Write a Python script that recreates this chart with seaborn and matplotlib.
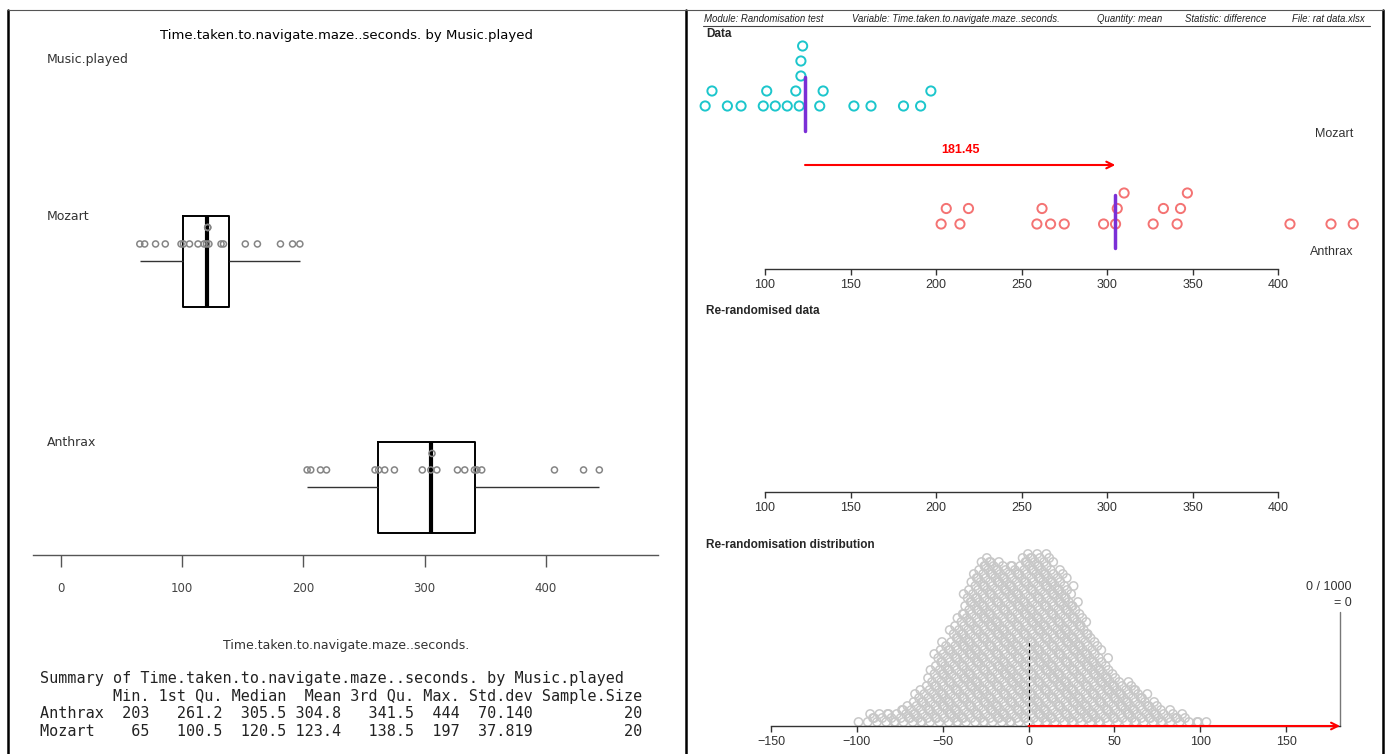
import numpy as np
import pandas as pd
import matplotlib
matplotlib.use("Agg")
import matplotlib.pyplot as plt
from matplotlib.lines import Line2D
import seaborn as sns

# data
groups = ["Mozart", "Anthrax"]
mozart_times = [65, 69, 78, 86, 99, 101, 106, 113, 118, 120, 121, 121, 122, 132, 134, 152, 162, 181, 191, 197]
anthrax_times = [203, 206, 214, 219, 259, 262, 267, 275, 298, 305, 306, 310, 327, 333, 341, 343, 347, 407, 431, 444]

stat_names = ["Min.", "1st Qu.", "Median", "Mean", "3rd Qu.", "Max.", "Std.dev", "Sample.Size"]
anthrax_stats = ["203", "261.2", "305.5", "304.8", "341.5", "444", "70.140", "20"]
mozart_stats = ["65", "100.5", "120.5", "123.4", "138.5", "197", "37.819", "20"]

# re-randomisation distribution: bin centres and number of stacked dots per bin
dist_centres = [-96, -92, -88, -84, -80, -76, -72, -68, -64, -60,
                -56, -52, -48, -44, -40, -36, -32, -28, -24, -20,
                -16, -12, -8, -4, 0, 4, 8, 12, 16, 20,
                24, 28, 32, 36, 40, 44, 48, 52, 56, 60,
                64, 68, 72, 76, 80, 84, 88, 92, 96, 100, 104]
dist_counts = [1, 3, 3, 3, 3, 4, 4, 6, 8, 10,
               14, 19, 21, 24, 28, 33, 38, 41, 42, 41,
               41, 40, 40, 42, 43, 43, 43, 42, 39, 38,
               35, 31, 27, 23, 20, 17, 14, 12, 11, 10,
               9, 8, 6, 5, 4, 3, 3, 2, 1, 1, 1]
n_resamples = 1000

sns.set_style("white")
plt.rcParams["font.family"] = ["DejaVu Sans"]

W, H = 1389, 754
fig = plt.figure(figsize=(W / 100, H / 100), dpi=100)


def px_axes(x0, y0, x1, y1):
    ax = fig.add_axes([x0 / W, 1 - y1 / H, (x1 - x0) / W, (y1 - y0) / H])
    ax.patch.set_alpha(0)
    return ax


def ftext(x, y, s, **kw):
    return fig.text(x / W, 1 - y / H, s, **kw)


def stack_levels(values, gap):
    # greedy dot stacking: lowest level with no close neighbour
    placed = []
    levels = []
    for v in values:
        lev = 0
        while any(abs(v - pv) < gap and pl == lev for pv, pl in placed):
            lev += 1
        placed.append((v, lev))
        levels.append(lev)
    return np.array(levels)


# ---------------- left panel: boxplots ----------------
df = pd.DataFrame({
    "Music.played": ["Mozart"] * len(mozart_times) + ["Anthrax"] * len(anthrax_times),
    "time": mozart_times + anthrax_times,
})

axL = px_axes(33, 40, 658, 555)
sns.boxplot(data=df, x="time", y="Music.played", order=groups, orient="h",
            width=0.40, whis=(0, 100), showfliers=False, fill=False,
            color="black", linewidth=1.4, showcaps=False,
            medianprops=dict(linewidth=3, color="black"),
            whiskerprops=dict(linewidth=1, color="#333333"), ax=axL)

for i, g in enumerate(groups):
    vals = np.sort(df.loc[df["Music.played"] == g, "time"].values)
    lev = np.minimum(stack_levels(vals, 1.5), 1)
    axL.scatter(vals, i - 0.0774 - lev * 0.073, s=19, facecolors="none",
                edgecolors="#858585", linewidths=1.1, zorder=3)

axL.set_xlim(-23.1, 492.4)
axL.set_ylim(1.299, -0.98)
axL.set_xlabel("")
axL.set_ylabel("")
axL.set_yticks([])
axL.set_xticks([0, 100, 200, 300, 400])
for s in ["top", "left", "right"]:
    axL.spines[s].set_visible(False)
axL.spines["bottom"].set_color("#555555")
axL.spines["bottom"].set_linewidth(1)
axL.tick_params(axis="x", bottom=True, length=8.6, width=1, color="#555555",
                pad=11, labelsize=8.5, labelcolor="#444444")

ftext(346, 36, "Time.taken.to.navigate.maze..seconds. by Music.played",
      ha="center", va="center", size=9.5, color="black")
ftext(47, 59, "Music.played", ha="left", va="center", size=9, color="#333333")
ftext(47, 217, "Mozart", ha="left", va="center", size=9, color="#333333")
ftext(47, 443, "Anthrax", ha="left", va="center", size=9, color="#333333")
ftext(346, 645, "Time.taken.to.navigate.maze..seconds.", ha="center",
      va="center", size=9, color="#333333")

# summary table, R print style
widths = [max(len(n), len(a), len(m)) for n, a, m in zip(stat_names, anthrax_stats, mozart_stats)]
rows = ["Summary of Time.taken.to.navigate.maze..seconds. by Music.played",
        " " * 7 + "".join(" " + n.rjust(w) for n, w in zip(stat_names, widths)),
        "Anthrax" + "".join(" " + v.rjust(w) for v, w in zip(anthrax_stats, widths)),
        "Mozart".ljust(7) + "".join(" " + v.rjust(w) for v, w in zip(mozart_stats, widths))]
for k, line in enumerate(rows):
    ftext(40, 679 + k * 17.4, line, ha="left", va="center", size=10.9,
          family="DejaVu Sans Mono", color="#222222")

# ---------------- right panel ----------------
rfont = "Liberation Sans"

# header strip
axH = px_axes(700, 10, 1370, 27)
axH.set_axis_off()
header = [("Module: Randomisation test", 704), ("Variable: Time.taken.to.navigate.maze..seconds.", 852),
          ("Quantity: mean", 1097), ("Statistic: difference", 1185), ("File: rat data.xlsx", 1292)]
for txt, xpx in header:
    axH.text((xpx - 700) / 670, 0.5, txt, transform=axH.transAxes, ha="left",
             va="center", size=6.9, style="italic", family=rfont,
             color="#222222", clip_on=True)
fig.add_artist(Line2D([703 / W, 1370 / W], [1 - 26 / H, 1 - 26 / H], color="#444444", lw=0.8))

ftext(706, 34, "Data", ha="left", va="center", size=8.5, weight="bold", family=rfont)
ftext(706, 311, "Re-randomised data", ha="left", va="center", size=8.5, weight="bold", family=rfont)
ftext(706, 545, "Re-randomisation distribution", ha="left", va="center", size=8.5,
      weight="bold", family=rfont)


def style_data_axis(ax, lo, hi, ticks):
    ax.set_xticks(ticks)
    ax.set_yticks([])
    for s in ["top", "left", "right"]:
        ax.spines[s].set_visible(False)
    ax.spines["bottom"].set_bounds(lo, hi)
    ax.spines["bottom"].set_color("#333333")
    ax.spines["bottom"].set_linewidth(1)
    ax.tick_params(axis="x", bottom=True, length=4.5, width=1, color="#333333",
                   pad=2.5, labelsize=9, labelcolor="#333333")
    for lab in ax.get_xticklabels():
        lab.set_family(rfont)


xlo = 100 + (690 - 765) / 1.71
xhi = 100 + (1383 - 765) / 1.71

axD = px_axes(690, 40, 1383, 269)
moz = np.sort(np.array(mozart_times, dtype=float))
ant = np.sort(np.array(anthrax_times, dtype=float))
m_moz, m_ant = moz.mean(), ant.mean()
diff = m_ant - m_moz

axD.scatter(moz, 163 + stack_levels(moz, 7) * 15, s=44, facecolors="none",
            edgecolors="#1CC6CC", linewidths=1.4, zorder=3)
axD.scatter(ant, 45 + stack_levels(ant, 7) * 15.5, s=44, facecolors="none",
            edgecolors="#F47373", linewidths=1.4, zorder=3)
axD.plot([m_moz, m_moz], [138, 192], color="#7B2FD6", lw=2.5, zorder=4)
axD.plot([m_ant, m_ant], [21, 74], color="#7B2FD6", lw=2.5, zorder=4)
axD.annotate("", xy=(m_ant, 104), xytext=(m_moz, 104),
             arrowprops=dict(arrowstyle="->", color="red", lw=1.5, mutation_scale=12,
                             shrinkA=0, shrinkB=0))
axD.text((m_moz + m_ant) / 2, 119, f"{diff:.2f}", color="red", weight="bold",
         ha="center", va="center", size=9, family=rfont)
axD.set_xlim(xlo, xhi)
axD.set_ylim(0, 229)
style_data_axis(axD, 100, 400, [100, 150, 200, 250, 300, 350, 400])
ftext(1353, 134, "Mozart", ha="right", va="center", size=9, family=rfont, color="#333333")
ftext(1353, 252, "Anthrax", ha="right", va="center", size=9, family=rfont, color="#333333")

axR = px_axes(690, 300, 1383, 492)
axR.set_xlim(xlo, xhi)
axR.set_ylim(0, 1)
style_data_axis(axR, 100, 400, [100, 150, 200, 250, 300, 350, 400])

# re-randomisation distribution
axS = px_axes(690, 540, 1383, 726)
dx, dy = [], []
for i, (c, n) in enumerate(zip(dist_centres, dist_counts)):
    for k in range(n):
        dx.append(c + 6 * (((k + i * 0.37) * 0.618034) % 1 - 0.5))
        dy.append(4 + k * 4)
axS.scatter(dx, dy, s=36, facecolors="none", edgecolors="#C8C8C8", linewidths=1.1, zorder=2)
axS.plot([0, 0], [0, 86], color="black", lw=0.8, ls=(0, (3, 3)), zorder=3)
axS.annotate("", xy=(diff, 0), xytext=(0, 0),
             arrowprops=dict(arrowstyle="->", color="red", lw=1.5, mutation_scale=12,
                             shrinkA=0, shrinkB=0), annotation_clip=False, zorder=5)
axS.plot([diff, diff], [0, 114], color="#777777", lw=1, clip_on=False)
n_extreme = sum(n for c, n in zip(dist_centres, dist_counts) if c >= diff)
axS.set_xlim((690 - 1028.5) / 1.717, (1383 - 1028.5) / 1.717)
axS.set_ylim(0, 186)
style_data_axis(axS, -150, diff, [-150, -100, -50, 0, 50, 100, 150])
ftext(1352, 587, f"{n_extreme} / {n_resamples}", ha="right", va="center", size=9,
      family=rfont, color="#333333")
ftext(1352, 603, f"= {n_extreme / n_resamples:g}", ha="right", va="center", size=9,
      family=rfont, color="#333333")

# window frame
for xpx in [8, 686, 1383]:
    fig.add_artist(Line2D([xpx / W, xpx / W], [0, 1 - 10 / H], color="black", lw=1.8))
fig.add_artist(Line2D([8 / W, 1383 / W], [1 - 10 / H, 1 - 10 / H], color="#555555", lw=0.8))

fig.savefig("out.png", dpi=100)
